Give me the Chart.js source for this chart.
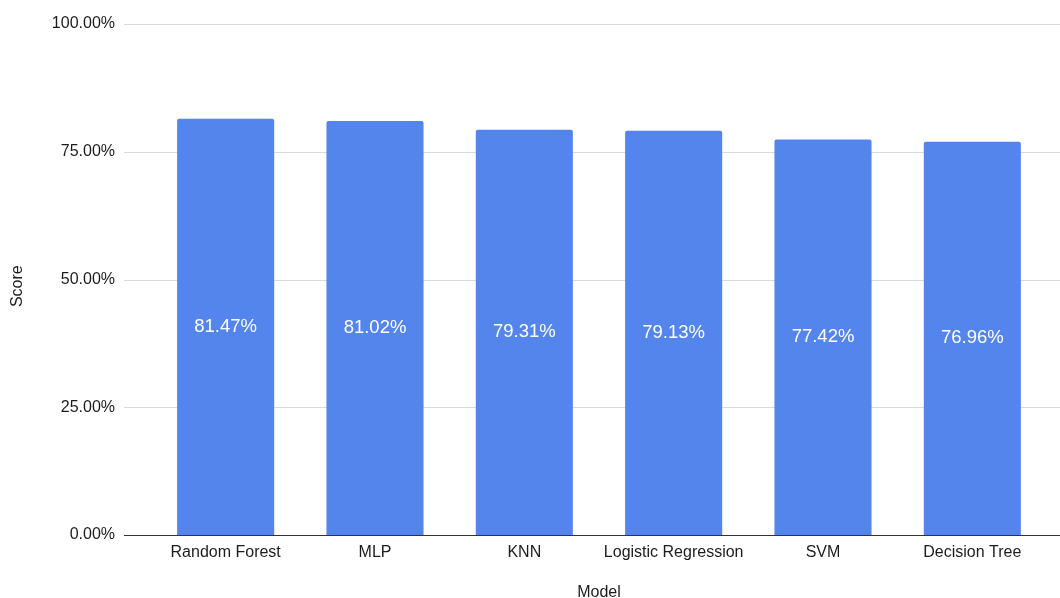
<!DOCTYPE html>
<html>
<head>
<meta charset="utf-8">
<style>
  html, body { margin: 0; padding: 0; background: #fff; overflow: hidden; }
  #wrap { width: 1060px; height: 598px; position: relative; }
</style>
<script src="https://cdn.jsdelivr.net/npm/chart.js@4/dist/chart.umd.min.js"></script>
</head>
<body>
<div id="wrap"><canvas id="chart" width="1060" height="598"></canvas></div>
<script>
// Model accuracy scores (percent)
const models = ['Random Forest', 'MLP', 'KNN', 'Logistic Regression', 'SVM', 'Decision Tree'];
const scores = [81.47, 81.02, 79.31, 79.13, 77.42, 76.96];
const yTicks = [0, 25, 50, 75, 100];

const FONT = '"Liberation Sans", Arial, Helvetica, sans-serif';
const BAR_COLOR = '#5485EC';
const TEXT = '#1c1c1c';

// Horizontal grid lines that run past the plot edges, plus the dark baseline
const wideGrid = {
  id: 'wideGrid',
  beforeDatasetsDraw(chart, args, opts) {
    const { ctx } = chart;
    const y = chart.scales.y;
    ctx.save();
    ctx.strokeStyle = opts.color;
    ctx.lineWidth = 1;
    y.ticks.forEach(t => {
      if (t.value === y.min) return;
      const py = Math.round(y.getPixelForValue(t.value)) + 0.5;
      ctx.beginPath();
      ctx.moveTo(opts.start, py);
      ctx.lineTo(chart.width, py);
      ctx.stroke();
    });
    ctx.restore();
  },
  afterDatasetsDraw(chart, args, opts) {
    const { ctx } = chart;
    const y = chart.scales.y;
    const py = Math.round(y.getPixelForValue(y.min)) + 0.5;
    ctx.save();
    ctx.strokeStyle = opts.axisColor;
    ctx.lineWidth = 1;
    ctx.beginPath();
    ctx.moveTo(opts.start, py);
    ctx.lineTo(chart.width, py);
    ctx.stroke();
    ctx.restore();
  }
};

// Value labels centred inside each bar
const barLabels = {
  id: 'barLabels',
  afterDatasetsDraw(chart) {
    const { ctx } = chart;
    const meta = chart.getDatasetMeta(0);
    const data = chart.data.datasets[0].data;
    ctx.save();
    ctx.fillStyle = '#ffffff';
    ctx.font = '18.5px ' + FONT;
    ctx.textAlign = 'center';
    ctx.textBaseline = 'middle';
    meta.data.forEach((bar, i) => {
      const cy = (bar.y + bar.base) / 2;
      ctx.fillText(data[i].toFixed(2) + '%', bar.x, cy);
    });
    ctx.restore();
  }
};

new Chart(document.getElementById('chart'), {
  type: 'bar',
  data: {
    labels: models,
    datasets: [{
      label: 'Score',
      data: scores,
      backgroundColor: BAR_COLOR,
      borderWidth: 0,
      borderRadius: { topLeft: 2, topRight: 2, bottomLeft: 0, bottomRight: 0 },
      borderSkipped: false,
      categoryPercentage: 1,
      barPercentage: 0.65
    }]
  },
  options: {
    responsive: false,
    animation: false,
    layout: { padding: { left: 0, right: 13, top: 24, bottom: 0 } },
    plugins: {
      legend: { display: false },
      tooltip: { enabled: false },
      wideGrid: { start: 124, color: '#d9d9d9', axisColor: '#333333' }
    },
    scales: {
      x: {
        grid: { display: false, drawTicks: false },
        border: { display: false },
        ticks: { color: TEXT, font: { family: FONT, size: 16 }, padding: 8, maxRotation: 0, autoSkip: false },
        title: { display: true, text: 'Model', color: TEXT, font: { family: FONT, size: 16, lineHeight: 1 }, padding: { top: 0, bottom: -2.5 } },
        afterFit(scale) { scale.height = 63; }
      },
      y: {
        min: 0,
        max: 100,
        afterBuildTicks(scale) { scale.ticks = yTicks.map(v => ({ value: v })); },
        grid: { display: false, drawTicks: false },
        border: { display: false },
        ticks: {
          color: TEXT,
          font: { family: FONT, size: 16 },
          padding: 36,
          callback: v => Number(v).toFixed(2) + '%'
        },
        // trailing spaces nudge the rotated title slightly below the axis midpoint
        title: { display: true, text: 'Score   ', color: TEXT, font: { family: FONT, size: 16, lineHeight: 1 }, padding: { top: 9.5, bottom: 0 } },
        afterFit(scale) {
          scale.width = 151;
          // label gap should not push the plot edges inward
          scale.paddingTop = 0;
          scale.paddingBottom = 0;
        }
      }
    }
  },
  plugins: [wideGrid, barLabels]
});
</script>
</body>
</html>
